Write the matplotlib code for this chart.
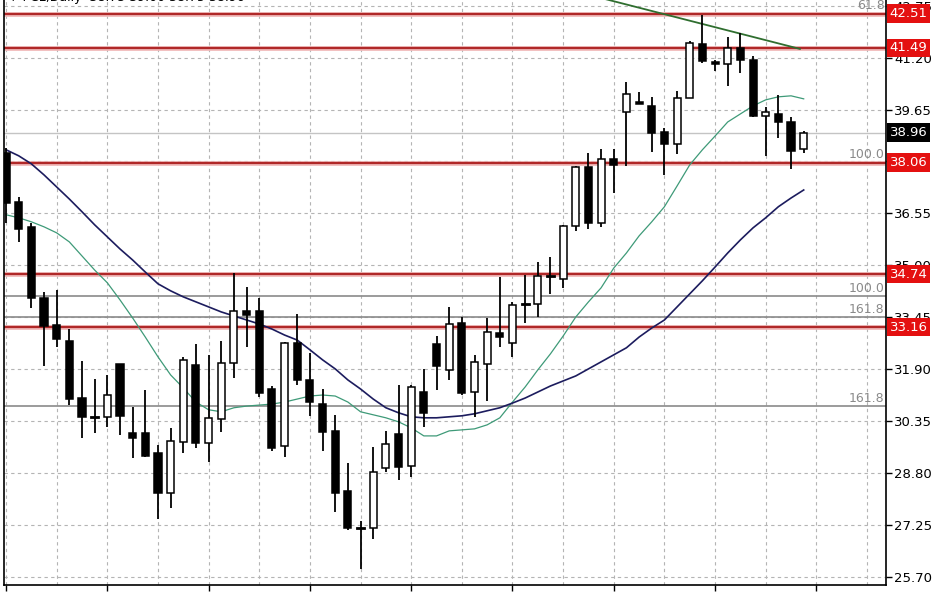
import matplotlib
matplotlib.use('Agg')
import matplotlib.pyplot as plt
from matplotlib.patches import Rectangle

# daily candles
opens = [38.36, 36.89, 36.15, 34.03, 33.22, 32.75, 31.04, 30.48, 30.48, 32.06,
         30.00, 30.00, 29.40, 28.21, 29.73, 32.03, 29.70, 30.42, 32.09, 33.64,
         33.64, 31.31, 29.61, 32.69, 31.58, 30.86, 30.06, 28.27, 27.16, 27.16,
         28.95, 29.97, 29.01, 31.22, 32.66, 31.88, 33.28, 31.22, 32.06, 32.98,
         32.69, 33.85, 33.85, 34.69, 34.60, 36.18, 37.94, 36.27, 38.18, 39.58,
         39.88, 39.76, 38.98, 38.63, 40.00, 41.61, 41.07, 41.01, 41.49, 41.13,
         39.46, 39.52, 39.28, 38.48]
highs = [38.51, 37.04, 36.27, 34.21, 34.27, 33.10, 32.15, 31.61, 31.73, 32.06,
         30.77, 31.28, 29.64, 30.15, 32.27, 32.66, 32.33, 32.75, 34.77, 34.36,
         34.03, 31.40, 32.72, 33.55, 32.39, 31.31, 30.54, 29.10, 27.37, 29.58,
         30.06, 31.43, 31.43, 31.91, 32.89, 33.76, 33.46, 32.33, 33.43, 34.66,
         33.91, 34.72, 35.10, 35.25, 36.20, 37.97, 38.36, 38.48, 38.48, 40.48,
         40.18, 40.03, 39.10, 40.21, 41.70, 42.48, 41.13, 41.82, 41.94, 41.25,
         39.73, 40.09, 39.43, 39.01]
lows = [36.27, 35.70, 33.73, 32.00, 32.57, 30.83, 29.85, 30.00, 30.18, 29.94,
        29.25, 29.28, 27.43, 27.76, 29.40, 29.55, 29.13, 30.03, 31.64, 32.57,
        31.07, 29.46, 29.28, 31.43, 30.51, 29.46, 27.64, 27.10, 25.94, 26.83,
        28.83, 28.60, 28.69, 30.18, 31.28, 31.58, 31.13, 30.48, 30.95, 32.57,
        32.27, 33.28, 33.46, 34.15, 34.33, 36.03, 36.09, 36.15, 37.16, 37.97,
        39.82, 38.39, 37.70, 38.33, 40.00, 41.04, 40.80, 40.36, 40.75, 39.43,
        38.27, 38.80, 37.88, 38.36]
closes = [36.86, 36.09, 34.03, 33.19, 32.80, 31.01, 30.48, 30.47, 31.13, 30.51,
          29.85, 29.31, 28.21, 29.76, 32.18, 29.70, 30.45, 32.09, 33.64, 33.52,
          31.19, 29.55, 32.69, 31.58, 30.92, 30.03, 28.21, 27.16, 27.19, 28.83,
          29.67, 28.98, 31.37, 30.60, 32.00, 33.25, 31.19, 32.12, 33.01, 32.86,
          33.82, 33.88, 34.69, 34.63, 36.18, 37.94, 36.27, 38.18, 38.00, 40.12,
          39.82, 38.95, 38.63, 40.00, 41.64, 41.10, 41.01, 41.49, 41.13, 39.46,
          39.58, 39.28, 38.42, 38.96]

# moving averages (green = short, navy = long)
ma_fast = [36.51, 36.42, 36.30, 36.15, 35.97, 35.70, 35.28, 34.86, 34.48, 33.97,
           33.43, 32.86, 32.27, 31.73, 31.34, 30.92, 30.69, 30.63, 30.75, 30.80,
           30.83, 30.86, 30.92, 31.01, 31.10, 31.13, 31.10, 30.92, 30.63, 30.54,
           30.45, 30.33, 30.15, 29.91, 29.91, 30.06, 30.09, 30.12, 30.24, 30.45,
           30.92, 31.37, 31.88, 32.36, 32.89, 33.46, 33.91, 34.33, 34.92, 35.37,
           35.88, 36.30, 36.75, 37.37, 38.00, 38.45, 38.86, 39.28, 39.52, 39.76,
           39.94, 40.03, 40.06, 39.97]
ma_slow = [38.45, 38.27, 38.03, 37.70, 37.34, 36.98, 36.60, 36.21, 35.85, 35.49,
           35.16, 34.80, 34.45, 34.24, 34.06, 33.91, 33.76, 33.61, 33.49, 33.37,
           33.25, 33.10, 32.92, 32.77, 32.48, 32.18, 31.91, 31.58, 31.31, 31.01,
           30.75, 30.60, 30.48, 30.45, 30.45, 30.48, 30.51, 30.57, 30.66, 30.75,
           30.89, 31.04, 31.22, 31.40, 31.55, 31.70, 31.91, 32.12, 32.33, 32.54,
           32.86, 33.13, 33.37, 33.76, 34.15, 34.54, 34.95, 35.37, 35.76, 36.12,
           36.42, 36.75, 37.01, 37.25]

red_levels = [42.51, 41.49, 38.06, 34.74, 33.16]
fib_lines = [34.09, 33.46, 30.80]
fib_texts = ['61.8', '100.0', '100.0', '161.8', '161.8']
fib_text_levels = [42.51, 38.06, 34.09, 33.46, 30.80]
last_price = 38.96

trend_x = [44, 62.7]
trend_y = [43.27, 41.46]

yticks = [25.70, 27.25, 28.80, 30.35, 31.90, 33.45, 35.00, 36.55, 38.10, 39.65, 41.20, 42.75]
ylabels = ['25.70', '27.25', '28.80', '30.35', '31.90', '33.45', '35.00', '36.55',
           '38.10', '39.65', '41.20', '42.75']

fig = plt.figure(figsize=(9.48, 5.93), dpi=100)
ax = fig.add_axes([4 / 948, 8 / 593, 882 / 948, 585 / 593])

n = len(opens)
ax.set_xlim(-0.16, 69.5)
ax.set_ylim(25.46, 42.92)

# grid
for y in yticks:
    ax.axhline(y, color='#b4b4b4', lw=0.8, ls=(0, (3, 3)), zorder=0)
for gx in range(0, 70, 4):
    ax.axvline(gx, color='#b4b4b4', lw=0.8, ls=(0, (3, 3)), zorder=0)

# levels
ax.axhline(last_price, color='#c4c4c4', lw=1.0, zorder=1)
for lv in fib_lines:
    ax.axhline(lv, color='#8a8a8a', lw=1.2, zorder=1)
for lv in red_levels:
    ax.axhline(lv, color='#f0b8b8', lw=3.4, zorder=1)
    ax.axhline(lv, color='#b02828', lw=1.6, zorder=1.1)
for t, lv in zip(fib_texts, fib_text_levels):
    ax.text(69.4, lv + 0.04, t, ha='right', va='bottom', color='#8a8a8a', fontsize=9)

# moving averages
xs = list(range(n))
ax.plot(xs, ma_fast, color='#3e9a78', lw=0.9, zorder=2)
ax.plot(xs, ma_slow, color='#1c1c5e', lw=1.2, zorder=2)
ax.plot(trend_x, trend_y, color='#2f6e2f', lw=1.3, zorder=2)

# candles
w = 0.56
for i in range(n):
    o, h, l, c = opens[i], highs[i], lows[i], closes[i]
    ax.plot([i, i], [l, h], color='black', lw=1.3, zorder=3, solid_capstyle='butt')
    lo, hi = min(o, c), max(o, c)
    if hi - lo < 0.06:
        ax.plot([i - w / 2, i + w / 2], [o, o], color='black', lw=2, zorder=4)
        continue
    fc = 'white' if c > o else 'black'
    ax.add_patch(Rectangle((i - w / 2, lo), w, hi - lo, facecolor=fc,
                           edgecolor='black', lw=1.1, zorder=4))

# axes look
ax.yaxis.tick_right()
ax.set_yticks(yticks)
ax.set_yticklabels(ylabels)
ax.tick_params(axis='y', length=4, width=1, pad=2, labelsize=9.5, colors='black')
ax.set_xticks(range(0, 70, 8))
ax.set_xticklabels([])
ax.tick_params(axis='x', length=4, width=1)
ax.spines['top'].set_visible(False)
for s in ['left', 'right', 'bottom']:
    ax.spines[s].set_linewidth(1.2)

# price boxes on the right
tr = ax.get_yaxis_transform()
for lv in red_levels:
    ax.text(1.004, lv, '%.2f' % lv, transform=tr, color='white', fontsize=9.5,
            va='center', ha='left', clip_on=False, zorder=6,
            bbox=dict(boxstyle='square,pad=0.22', fc='#e41010', ec='none'))
ax.text(1.004, last_price, '%.2f' % last_price, transform=tr, color='white',
        fontsize=9.5, va='center', ha='left', clip_on=False, zorder=6,
        bbox=dict(boxstyle='square,pad=0.22', fc='black', ec='none'))

ax.text(0.005, 0.993, '\u2191 PCL,Daily  38.75 39.00 38.75 38.96', transform=ax.transAxes,
        fontsize=9, va='bottom', ha='left', clip_on=False)

fig.savefig('out.png', dpi=100)
